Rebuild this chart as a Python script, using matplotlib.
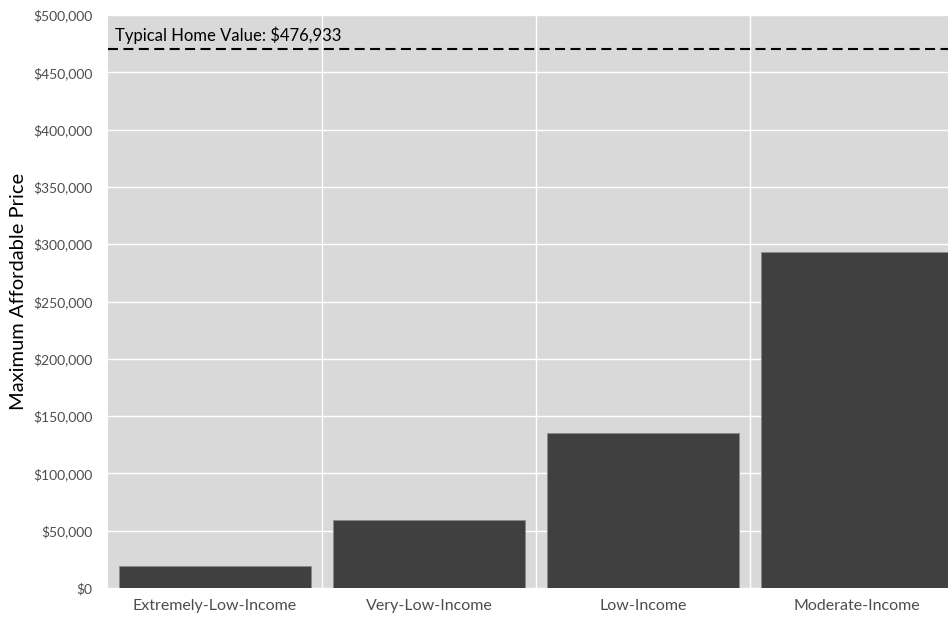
import matplotlib.pyplot as plt
from matplotlib.ticker import FuncFormatter

# data
categories = ["Extremely-Low-Income", "Very-Low-Income", "Low-Income", "Moderate-Income"]
max_price = [19300, 59000, 135000, 293500]
typical_value = 470500
typical_label = "Typical Home Value: $476,933"
y_ticks = [0, 50000, 100000, 150000, 200000, 250000, 300000, 350000, 400000, 450000, 500000]

plt.rcParams['font.family'] = ['Lato', 'DejaVu Sans']

fig = plt.figure(figsize=(9.48, 6.21), dpi=100)
# the right edge of the panel is cut off in the picture
ax = fig.add_axes([108 / 948, 33 / 621, 856 / 948, 573 / 621])
ax.set_facecolor("#d9d9d9")

x = list(range(len(categories)))
ax.bar(x, max_price, width=0.9, color="#404040", edgecolor="#8a8a8a", linewidth=0.6, zorder=3)

ax.axhline(typical_value, color="black", linestyle=(0, (4.8, 2.6)), linewidth=1.5, zorder=4)
ax.text(-0.467, typical_value + 4000, typical_label, fontsize=12, color="black", va="bottom", ha="left", zorder=5)

ax.set_xlim(-0.5, 3.5)
ax.set_ylim(0, 500000)
ax.set_yticks(y_ticks)
ax.yaxis.set_major_formatter(FuncFormatter(lambda v, p: "${:,.0f}".format(v)))
ax.set_xticks(x)
ax.set_xticklabels(categories)

# grid lines sit between the categories
for g in [0.5, 1.5, 2.5]:
    ax.axvline(g, color="white", linewidth=1.0, zorder=1)
ax.yaxis.grid(True, color="white", linewidth=1.0, zorder=1)
ax.set_axisbelow(True)

for s in ax.spines.values():
    s.set_visible(False)
ax.tick_params(axis="both", length=0, colors="#4d4d4d")
ax.tick_params(axis="x", pad=8, labelsize=11.5)
ax.tick_params(axis="y", pad=11, labelsize=10)

ax.set_ylabel("Maximum Affordable Price", fontsize=14.5, color="black")
ax.yaxis.set_label_coords(-0.095, 0.517)

fig.savefig("out.png", dpi=100)
